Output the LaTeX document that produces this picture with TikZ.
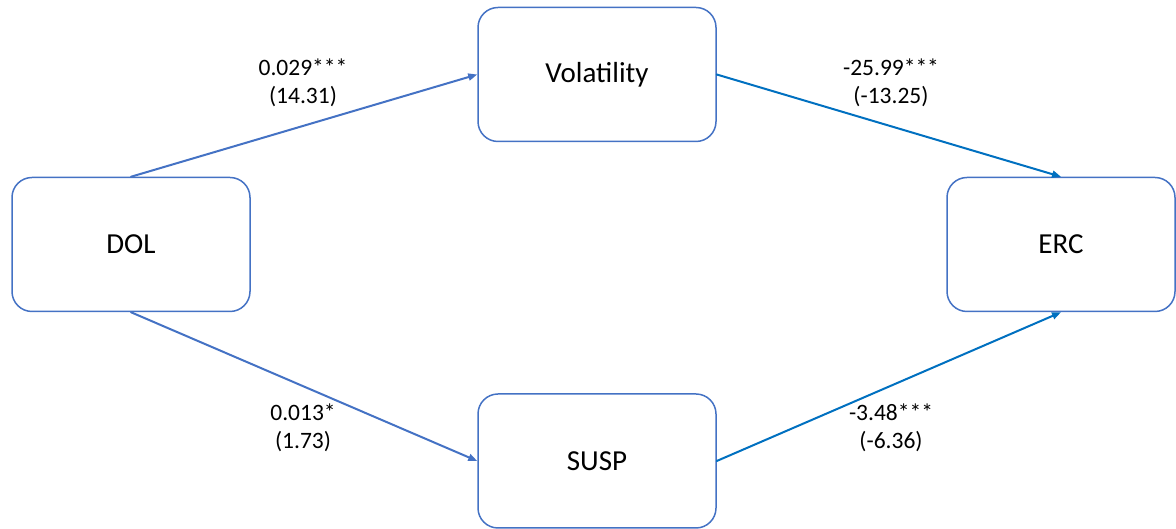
\documentclass[tikz,border=0pt]{standalone}
\usepackage{fontspec}
\setmainfont{Carlito}
\usetikzlibrary{arrows.meta}
\definecolor{boxblue}{HTML}{4472C4}
\definecolor{arrblue}{HTML}{0070C0}

\begin{document}
\begin{tikzpicture}[x=1pt,y=1pt,>={Triangle[length=9pt,width=7pt]},line cap=round,
    var/.style={draw=boxblue,line width=1.5pt,rounded corners=20pt,minimum width=238pt,minimum height=134pt,inner sep=0pt,font=\fontsize{29}{34}\selectfont},
    coef/.style={align=center,font=\fontsize{23.5}{28}\selectfont},
    pathL/.style={->,draw=boxblue,line width=2pt},
    pathR/.style={->,draw=arrblue,line width=2pt}]
    \useasboundingbox (0,0) rectangle (1176,529);
    \node[var] (dol) at (131,284.5) {DOL};
    \node[var] (vol) at (597,454.5) {Volatility};
    \node[var] (susp) at (597,68) {SUSP};
    \node[var,minimum width=228pt] (erc) at (1061,284.5) {ERC};
    \draw[pathL] (dol.north) -- (vol.west);
    \draw[pathL] (dol.south) -- (susp.west);
    \draw[pathR] (vol.east) -- (erc.north);
    \draw[pathR] (susp.east) -- (erc.south);
    \node[coef] (a1) at (303,446) {0.029***\\(14.31)};
    \node[coef] (b1) at (891,446) {-25.99***\\(-13.25)};
    \node[coef] (a2) at (303,101) {0.013*\\(1.73)};
    \node[coef] (b2) at (891,101) {-3.48***\\(-6.36)};
\end{tikzpicture}
\end{document}
